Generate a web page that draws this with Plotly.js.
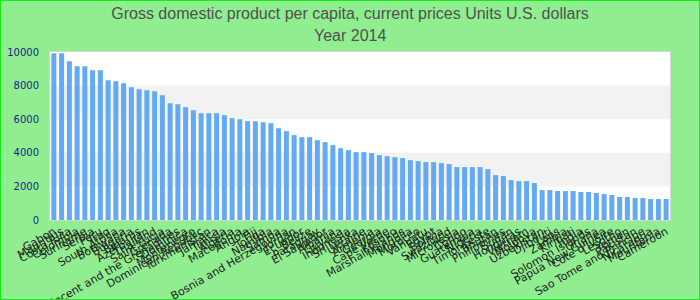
<!DOCTYPE html>
<html>
<head>
<meta charset="utf-8">
<script src="https://cdn.plot.ly/plotly-3.0.1.min.js"></script>
<style>
html,body{margin:0;padding:0;background:#90EE90;}
#wrap{position:relative;width:700px;height:300px;}
#chart{width:700px;height:300px;}
#frame{position:absolute;left:0;top:0;width:700px;height:300px;box-sizing:border-box;border:1px solid #11ee11;pointer-events:none;}
</style>
</head>
<body>
<div id="wrap"><div id="chart"></div><div id="frame"></div></div>
<script>
var countries = [
  "Gabon","Mauritius","Costa Rica","Colombia","Suriname","Serbia","Peru","Iraq",
  "South Africa","Botswana","Bulgaria","Belarus","Azerbaijan","Thailand","Saint Lucia","Grenada",
  "Saint Vincent and the Grenadines","Dominica","Montenegro","Dominican Republic","Turkmenistan","Jamaica","Tunisia","Algeria",
  "Macedonia","Angola","Fiji","Tonga","Namibia","Samoa","Bosnia and Herzegovina","Jordan",
  "Ecuador","Belize","Paraguay","El Salvador","Albania","Guyana","Indonesia","Sri Lanka",
  "Ukraine","Armenia","Georgia","Cape Verde","Kosovo","Marshall Islands","Mongolia","Morocco",
  "Vanuatu","Egypt","Bolivia","Swaziland","Micronesia","Congo","Guatemala","Nigeria",
  "Timor-Leste","Bhutan","Philippines","Sudan","Honduras","Vietnam","Moldova","Uzbekistan",
  "Djibouti","Laos","Zambia","Kiribati","India","Solomon Islands","Ghana","Papua New Guinea",
  "Cote d'Ivoire","Lesotho","Yemen","Pakistan","Sao Tome and Principe","Nicaragua","Mauritania","Cameroon"
];
var gdpPerCapita = [
  9921,9921,9446,9149,9149,8911,8911,8317,
  8257,8139,7901,7782,7723,7663,7426,6950,
  6891,6713,6535,6356,6356,6356,6238,6059,
  6000,5881,5881,5822,5762,5465,5287,5050,
  4931,4931,4752,4634,4455,4277,4158,4040,
  4040,3980,3861,3802,3743,3683,3564,3505,
  3446,3446,3386,3327,3149,3149,3149,3149,
  3030,2673,2614,2376,2317,2317,2198,1782,
  1782,1723,1723,1723,1663,1663,1604,1545,
  1485,1366,1366,1307,1307,1248,1248,1248
];
var yTicks = [0,2000,4000,6000,8000,10000];
var titleLine1 = 'Gross domestic product per capita, current prices Units U.S. dollars';
var titleLine2 = 'Year 2014';

var bands = [];
for (var i = 0; i + 1 < yTicks.length; i++) {
  if (i % 2 === 1) {
    bands.push({type:'rect', xref:'paper', yref:'y', x0:0, x1:1,
      y0:yTicks[i], y1:yTicks[i+1], fillcolor:'#f2f2f2', line:{width:0}, layer:'below'});
  }
}

var trace = {
  type:'bar', x:countries, y:gdpPerCapita,
  marker:{color:'#64aaf2'}, hoverinfo:'x+y'
};

var titleFont = {family:'Liberation Sans, Arial, sans-serif', size:16, color:'#505050'};

var layout = {
  width:700, height:300,
  paper_bgcolor:'#90EE90', plot_bgcolor:'#ffffff',
  margin:{l:50, r:30, t:52, b:80},
  title:{text:titleLine1, font:titleFont, x:0.5, xref:'container',
    y:1 - 13/300, yref:'container', yanchor:'middle'},
  annotations:[{text:titleLine2, font:titleFont, showarrow:false,
    xref:'paper', yref:'paper', x:(350-50)/620, xanchor:'center',
    y:1 + (52-36)/168, yanchor:'middle'}],
  bargap:0.35,
  showlegend:false,
  shapes:bands,
  xaxis:{type:'category', tickmode:'linear', dtick:1, tickangle:-30,
    tickfont:{family:'DejaVu Sans, sans-serif', size:11, color:'#222222'},
    showgrid:false, showline:true, linecolor:'#d6d6d6', linewidth:1, mirror:true,
    automargin:false},
  yaxis:{range:[0,10000], tickmode:'array', tickvals:yTicks, ticktext:yTicks.map(String),
    tickfont:{family:'DejaVu Sans, sans-serif', size:10, color:'#1c1c8a'},
    showgrid:false, zeroline:false, showline:true, linecolor:'#d6d6d6', linewidth:1, mirror:true,
    ticks:'', ticklabelstandoff:8, automargin:false}
};

Plotly.newPlot('chart',[trace],layout,{displayModeBar:false, staticPlot:true});
</script>
</body>
</html>
